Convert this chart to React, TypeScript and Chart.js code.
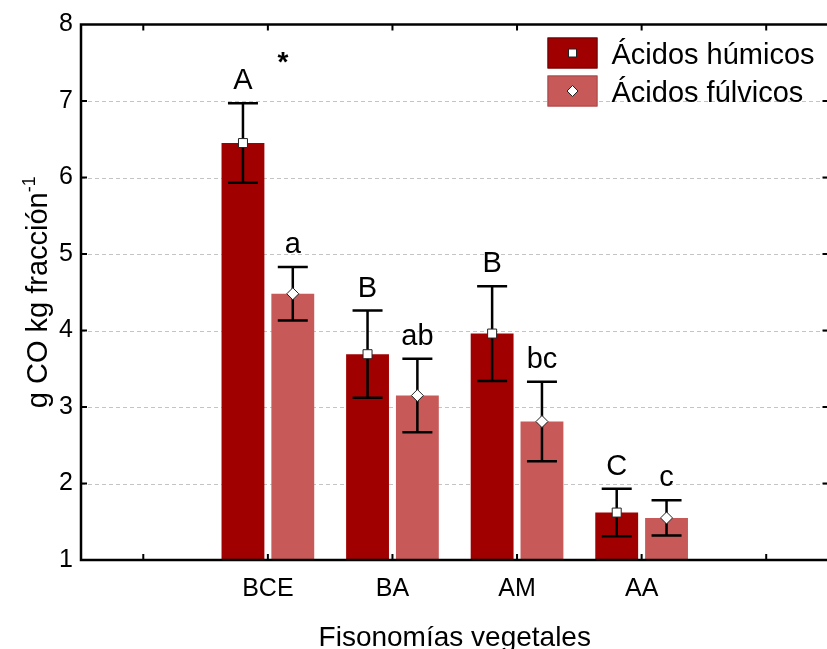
import { useEffect, useRef } from 'react';
import { Chart, registerables } from 'chart.js';

Chart.register(...registerables);

const FONT = "'Liberation Sans', Arial, sans-serif";

// Categories (empty slots at both ends, as in the original axis)
const categories = ['', 'BCE', 'BA', 'AM', 'AA', ''];

const humicLabel = 'Ácidos húmicos';
const fulvicLabel = 'Ácidos fúlvicos';

const humicValues = [null, 6.45, 3.69, 3.96, 1.62, null];
const humicErrors = [null, 0.52, 0.57, 0.62, 0.31, null];
const fulvicValues = [null, 4.48, 3.15, 2.81, 1.55, null];
const fulvicErrors = [null, 0.35, 0.48, 0.52, 0.23, null];

const humicLetters = ['', 'A', 'B', 'B', 'C', ''];
const fulvicLetters = ['', 'a', 'ab', 'bc', 'c', ''];

const yTickValues = [1, 2, 3, 4, 5, 6, 7, 8];

const asteriskCategory = 1;
const asteriskValue = 7.39;

const xTitle = 'Fisonomías vegetales';
const yTitleMain = 'g CO kg fracción';
const yTitleSup = '-1';

const HUMIC_COLOR = '#A00000';
const FULVIC_COLOR = '#C75959';

const overlayPlugin = {
  id: 'overlay',
  beforeDatasetsDraw(chart: any) {
    const { ctx, chartArea } = chart;
    const y = chart.scales.y;
    ctx.save();
    ctx.strokeStyle = '#c4c4c4';
    ctx.lineWidth = 1;
    ctx.setLineDash([4, 3]);
    yTickValues.forEach((v) => {
      if (v === y.min || v === y.max) return;
      const py = Math.round(y.getPixelForValue(v)) + 0.5;
      ctx.beginPath();
      ctx.moveTo(chartArea.left, py);
      ctx.lineTo(chartArea.right, py);
      ctx.stroke();
    });
    ctx.restore();
  },
  afterDatasetsDraw(chart: any) {
    const { ctx } = chart;
    const xs = chart.scales.x;
    const ys = chart.scales.y;
    const series = [
      { values: humicValues, errors: humicErrors, letters: humicLetters, marker: 'square' },
      { values: fulvicValues, errors: fulvicErrors, letters: fulvicLetters, marker: 'diamond' },
    ];
    ctx.save();
    series.forEach((s, di) => {
      const meta = chart.getDatasetMeta(di);
      s.values.forEach((v: any, i: number) => {
        if (v === null) return;
        const e = s.errors[i] as number;
        const el = meta.data[i];
        const x = el.x;
        const yTop = ys.getPixelForValue(v + e);
        const yBot = ys.getPixelForValue(v - e);
        const yMid = ys.getPixelForValue(v);
        ctx.strokeStyle = '#000';
        ctx.lineWidth = 2.5;
        ctx.setLineDash([]);
        ctx.beginPath();
        ctx.moveTo(x, yTop);
        ctx.lineTo(x, yBot);
        ctx.moveTo(x - 15, yTop);
        ctx.lineTo(x + 15, yTop);
        ctx.moveTo(x - 15, yBot);
        ctx.lineTo(x + 15, yBot);
        ctx.stroke();
        // marker
        ctx.fillStyle = '#fff';
        ctx.strokeStyle = '#222';
        ctx.lineWidth = 1;
        ctx.beginPath();
        if (s.marker === 'square') {
          ctx.rect(x - 4.5, yMid - 4.5, 9, 9);
        } else {
          ctx.moveTo(x, yMid - 6);
          ctx.lineTo(x + 6, yMid);
          ctx.lineTo(x, yMid + 6);
          ctx.lineTo(x - 6, yMid);
          ctx.closePath();
        }
        ctx.fill();
        ctx.stroke();
        // letter
        ctx.fillStyle = '#000';
        ctx.font = `29px ${FONT}`;
        ctx.textAlign = 'center';
        ctx.textBaseline = 'alphabetic';
        ctx.fillText(s.letters[i], x, yTop - 14);
      });
    });
    // asterisk
    ctx.fillStyle = '#000';
    ctx.font = `bold 28px ${FONT}`;
    ctx.textAlign = 'center';
    ctx.textBaseline = 'alphabetic';
    ctx.fillText('*', xs.getPixelForValue(asteriskCategory) + 15, ys.getPixelForValue(asteriskValue));
    ctx.restore();
  },
  afterDraw(chart: any) {
    const { ctx, chartArea } = chart;
    const xs = chart.scales.x;
    const ys = chart.scales.y;
    const { left, right, top, bottom } = chartArea;
    ctx.save();
    ctx.setLineDash([]);
    // frame
    ctx.strokeStyle = '#000';
    ctx.lineWidth = 2.5;
    ctx.beginPath();
    ctx.moveTo(left, top);
    ctx.lineTo(right, top);
    ctx.lineTo(right, bottom);
    ctx.lineTo(left, bottom);
    ctx.closePath();
    ctx.stroke();
    // inward ticks
    ctx.lineWidth = 2;
    ctx.beginPath();
    categories.forEach((_, i) => {
      const px = xs.getPixelForValue(i);
      ctx.moveTo(px, bottom);
      ctx.lineTo(px, bottom - 6);
      ctx.moveTo(px, top);
      ctx.lineTo(px, top + 6);
    });
    yTickValues.forEach((v) => {
      if (v === ys.min || v === ys.max) return;
      const py = ys.getPixelForValue(v);
      ctx.moveTo(left, py);
      ctx.lineTo(left + 6, py);
      ctx.moveTo(right, py);
      ctx.lineTo(right - 6, py);
    });
    ctx.stroke();

    // legend
    const items = [
      { label: humicLabel, color: HUMIC_COLOR, edge: '#6a0000', marker: 'square' },
      { label: fulvicLabel, color: FULVIC_COLOR, edge: '#a84848', marker: 'diamond' },
    ];
    const bx = right - 281;
    items.forEach((it, k) => {
      const by = top + 13 + k * 38;
      ctx.fillStyle = it.color;
      ctx.fillRect(bx, by, 50, 31);
      ctx.strokeStyle = it.edge;
      ctx.lineWidth = 1;
      ctx.strokeRect(bx + 0.5, by + 0.5, 49, 30);
      const cx = bx + 25;
      const cy = by + 15.5;
      ctx.fillStyle = '#fff';
      ctx.strokeStyle = '#222';
      ctx.beginPath();
      if (it.marker === 'square') {
        ctx.rect(cx - 4, cy - 4, 8, 8);
      } else {
        ctx.moveTo(cx, cy - 5.5);
        ctx.lineTo(cx + 5.5, cy);
        ctx.lineTo(cx, cy + 5.5);
        ctx.lineTo(cx - 5.5, cy);
        ctx.closePath();
      }
      ctx.fill();
      ctx.stroke();
      ctx.fillStyle = '#000';
      ctx.font = `29px ${FONT}`;
      ctx.textAlign = 'left';
      ctx.textBaseline = 'alphabetic';
      ctx.fillText(it.label, bx + 64, cy + 11);
    });

    // y-axis title (rotated, with superscript)
    ctx.translate(47, (top + bottom) / 2);
    ctx.rotate(-Math.PI / 2);
    ctx.font = `29px ${FONT}`;
    const w1 = ctx.measureText(yTitleMain).width;
    ctx.font = `18px ${FONT}`;
    const w2 = ctx.measureText(yTitleSup).width;
    const start = -(w1 + w2) / 2;
    ctx.fillStyle = '#000';
    ctx.textAlign = 'left';
    ctx.textBaseline = 'alphabetic';
    ctx.font = `29px ${FONT}`;
    ctx.fillText(yTitleMain, start, 0);
    ctx.font = `18px ${FONT}`;
    ctx.fillText(yTitleSup, start + w1, -12);
    ctx.restore();
  },
};

export default function App() {
  const ref = useRef<HTMLCanvasElement | null>(null);
  useEffect(() => {
    if (!ref.current) return;
    const chart = new Chart(ref.current, {
      type: 'bar',
      data: {
        labels: categories,
        datasets: [
          {
            label: humicLabel,
            data: humicValues as any,
            backgroundColor: HUMIC_COLOR,
            borderWidth: 0,
            categoryPercentage: 0.8,
            barPercentage: 0.86,
          },
          {
            label: fulvicLabel,
            data: fulvicValues as any,
            backgroundColor: FULVIC_COLOR,
            borderWidth: 0,
            categoryPercentage: 0.8,
            barPercentage: 0.86,
          },
        ],
      },
      options: {
        responsive: false,
        animation: false,
        layout: { padding: { left: 0, right: 11.5, top: 24.5, bottom: 0 } },
        plugins: { legend: { display: false }, tooltip: { enabled: false } },
        scales: {
          x: {
            type: 'category',
            grid: { display: false, drawTicks: false },
            border: { display: false },
            ticks: {
              color: '#000',
              font: { family: FONT, size: 25 },
              padding: 14,
              maxRotation: 0,
              autoSkip: false,
            },
            title: {
              display: true,
              text: xTitle,
              color: '#000',
              font: { family: FONT, size: 28, lineHeight: 0.78 },
              padding: 0,
            },
            afterFit: (s: any) => {
              s.height = 89;
            },
          },
          y: {
            min: 1,
            max: 8,
            grid: { display: false, drawTicks: false },
            border: { display: false },
            ticks: {
              stepSize: 1,
              color: '#000',
              font: { family: FONT, size: 25 },
              padding: 8,
            },
            afterFit: (s: any) => {
              s.width = 81;
            },
          },
        },
      },
      plugins: [overlayPlugin],
    });
    return () => chart.destroy();
  }, []);
  return (
    <div
      style={{
        position: 'fixed',
        left: 0,
        top: 0,
        width: 827,
        height: 649,
        overflow: 'hidden',
        background: '#fff',
      }}
    >
      <canvas ref={ref} width={840} height={649} style={{ display: 'block', width: 840, height: 649 }} />
    </div>
  );
}
